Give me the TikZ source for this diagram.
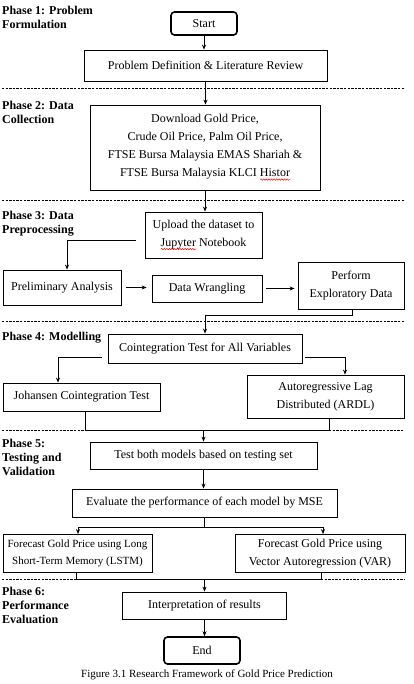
\documentclass[tikz,border=0pt]{standalone}
\usepackage{fontspec}
\setmainfont{Liberation Serif}
\usetikzlibrary{arrows.meta,decorations.pathmorphing}
\newlength\swlen
\newcommand\spellwave[1]{\settowidth\swlen{#1}\rlap{\tikz[baseline=0pt,x=1pt,y=1pt]\draw[red,line width=0.5pt,decorate,decoration={snake,amplitude=0.7pt,segment length=2.6pt}] (0pt,-2.8pt) -- (\swlen,-2.8pt);}#1}
\tikzset{
  box/.style={draw, line width=0.8pt, align=center, inner sep=0pt, font=\fontsize{12}{18}\selectfont},
  smallbox/.style={box, font=\fontsize{11}{17}\selectfont},
  term/.style={box, rounded corners=3.5pt, line width=1.6pt},
  phase/.style={anchor=north west, align=left, inner sep=0pt, font=\fontsize{12}{14}\selectfont\bfseries},
  sep/.style={line width=0.6pt, dash pattern=on 2.4pt off 1.2pt},
  conn/.style={line width=0.8pt},
  arr/.style={conn, -{Stealth[length=5pt,width=4pt]}},
}
\begin{document}
\begin{tikzpicture}[x=1pt,y=-1pt]
\fill[white] (0,0) rectangle (414,684);
\useasboundingbox (0,0) rectangle (414,684);

% phase labels
\node[phase] (p1) at (2,6) {Phase 1: Problem\\Formulation};
\node[phase] (p2) at (2,101) {Phase 2: Data\\Collection};
\node[phase] (p3) at (2,211) {Phase 3: Data\\Preprocessing};
\node[phase] (p4) at (2,332) {Phase 4: Modelling};
\node[phase] (p5) at (2,439) {Phase 5:\\Testing and\\Validation};
\node[phase] (p6) at (2,587) {Phase 6:\\Performance\\Evaluation};

% separators
\draw[sep] (2,88) -- (404,88);
\draw[sep] (2,200) -- (404,200);
\draw[sep] (2,321) -- (404,321);

% boxes
\node[term, minimum width=66pt, minimum height=23pt] (start) at (204,23.5) {Start};
\node[box, minimum width=243pt, minimum height=31pt] (prob) at (205.5,65.5) {Problem Definition \& Literature Review};
\node[box, minimum width=230pt, minimum height=85pt] (data) at (205,147.5) {Download Gold Price,\\Crude Oil Price, Palm Oil Price,\\FTSE Bursa Malaysia EMAS Shariah \&\\FTSE Bursa Malaysia KLCI \spellwave{Histor}};
\node[box, minimum width=117pt, minimum height=46pt] (upload) at (203.5,235) {Upload the dataset to\\\spellwave{Jupyter} Notebook};
\node[box, minimum width=118pt, minimum height=35pt] (prelim) at (62,287.5) {Preliminary Analysis};
\node[box, minimum width=110pt, minimum height=27pt] (wrang) at (207,288.5) {Data Wrangling};
\node[box, minimum width=106pt, minimum height=47pt] (perf) at (351,285.5) {Perform\\Exploratory Data};
\node[box, minimum width=194pt, minimum height=29pt] (coint) at (205,348.5) {Cointegration Test for All Variables};
\node[box, minimum width=157pt, minimum height=28pt] (joh) at (81.5,397) {Johansen Cointegration Test};
\node[box, minimum width=157pt, minimum height=43pt] (ardl) at (325.5,396.5) {Autoregressive Lag\\Distributed (ARDL)};
\node[box, minimum width=227pt, minimum height=27pt] (test) at (203.5,455.5) {Test both models based on testing set};
\node[box, minimum width=265pt, minimum height=28pt] (eval) at (204.5,503) {Evaluate the performance of each model by MSE};
\node[smallbox, minimum width=149pt, minimum height=38pt] (lstm) at (77.5,553.5) {Forecast Gold Price using Long\\Short-Term Memory (LSTM)};
\node[box, minimum width=170pt, minimum height=38pt] (var) at (320,553.5) {Forecast Gold Price using\\Vector Autoregression (VAR)};
\node[box, minimum width=164pt, minimum height=27pt] (interp) at (204.5,605.5) {Interpretation of results};
\node[term, minimum width=76pt, minimum height=27pt] (end) at (202,650.5) {End};
\node[inner sep=0pt, font=\fontsize{11}{13}\selectfont] (cap) at (207,675) {Figure 3.1 Research Framework of Gold Price Prediction};

% connectors
\draw[arr] (start.south) -- (start.south |- prob.north);
\draw[arr] (prob.south) -- (prob.south |- data.north);
\draw[arr] (data.south) -- (data.south |- upload.north);
\coordinate (u1) at (136,240);
\draw[arr] (u1) -| ([xshift=5pt]prelim.north);
\draw[arr] ([xshift=5pt]prelim.east) -- ([xshift=-5pt]prelim.east -| wrang.west);
\draw[arr] ([xshift=4pt]wrang.east) -- ([xshift=-3pt]wrang.east -| perf.west);
\draw[arr] ([xshift=1pt]perf.south) -- ++(0,6) -| (coint.north);
\draw[arr] ([shift={(-6,8.5)}]coint.west) -| ([xshift=-23.5pt]joh.north);
\draw[arr] ([shift={(3,8.5)}]coint.east) -| ([xshift=19.5pt]ardl.north);

\coordinate (jl) at (85,430);
\coordinate (jr) at (329,430);
\draw[conn] ([xshift=3.5pt]joh.south) -- (jl) -- (jr) -- ([xshift=3.5pt]ardl.south);
\draw[sep] (2,430) -- (jl);
\draw[sep] (jr) -- (404,430);
\draw[arr] (jl -| test.north) -- (test.north);
\draw[arr] (test.south) -- (test.south |- eval.north);

\coordinate (e1) at (78,527);
\coordinate (e2) at (323,527);
\draw[conn] (eval.south) -- (eval.south |- e1);
\draw[conn] (e1) -- (e2);
\draw[arr] (e1) -- (e1 |- lstm.north);
\draw[arr] (e2) -- (e2 |- var.north);

\coordinate (l1) at (76,579.5);
\coordinate (l2) at (321,579.5);
\draw[conn] (l1 |- lstm.south) -- (l1) -- (l2) -- (l2 |- var.south);
\draw[sep] (2,579.5) -- (l1);
\draw[sep] (l2) -- (404,579.5);
\draw[arr] (l1 -| interp.north) -- (interp.north);
\draw[arr] (interp.south) -- (interp.south |- end.north);
\end{tikzpicture}
\end{document}
